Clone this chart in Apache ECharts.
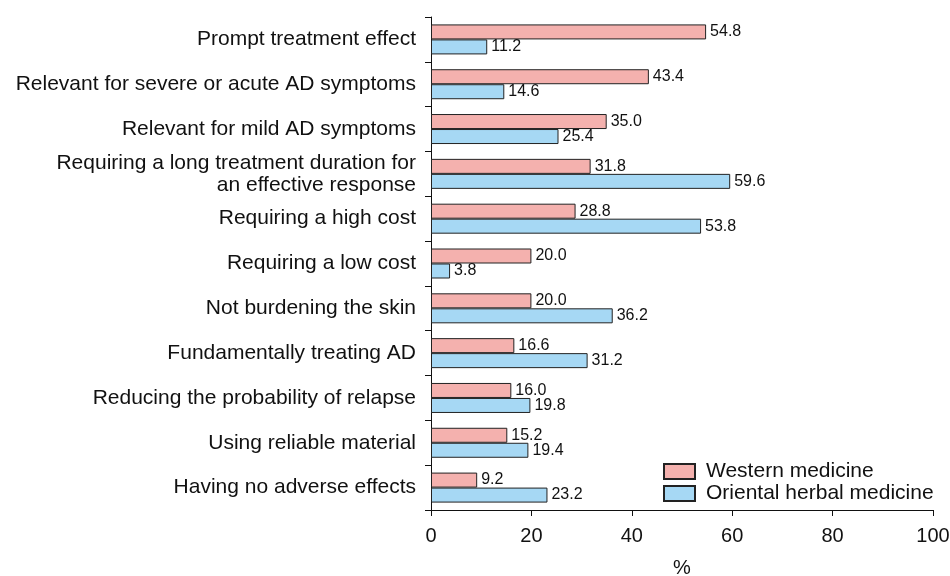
<!DOCTYPE html>
<html>
<head>
    <meta charset="utf-8" />
    <title>Western vs Oriental herbal medicine</title>
    <script src="https://cdn.jsdelivr.net/npm/echarts@6/dist/echarts.min.js"></script>
    <style type="text/css">
        html, body { margin: 0; padding: 0; background: #fff; }
        #chart { width: 950px; height: 576px; }
    </style>
</head>
<body>
    <div id="chart"></div>
<script type="text/javascript">
    // categories, top to bottom
    var categories = [
        'Prompt treatment effect',
        'Relevant for severe or acute AD symptoms',
        'Relevant for mild AD symptoms',
        'Requiring a long treatment duration for\nan effective response',
        'Requiring a high cost',
        'Requiring a low cost',
        'Not burdening the skin',
        'Fundamentally treating AD',
        'Reducing the probability of relapse',
        'Using reliable material',
        'Having no adverse effects'
    ];
    var westernValues = [54.8, 43.4, 35.0, 31.8, 28.8, 20.0, 20.0, 16.6, 16.0, 15.2, 9.2];
    var orientalValues = [11.2, 14.6, 25.4, 59.6, 53.8, 3.8, 36.2, 31.2, 19.8, 19.4, 23.2];
    var seriesNames = ['Western medicine', 'Oriental herbal medicine'];

    var font = 'Liberation Sans, Arial, sans-serif';

    function barLabel() {
        return {
            show: true,
            position: 'right',
            distance: 4,
            color: '#111',
            fontSize: 16,
            fontFamily: font,
            formatter: function (p) { return p.value.toFixed(1); }
        };
    }

    var myChart = echarts.init(document.getElementById('chart'));
    var option = {
        animation: false,
        backgroundColor: '#fff',
        grid: { left: 431, right: 17, top: 17, bottom: 66, outerBoundsMode: 'none' },
        legend: {
            orient: 'vertical',
            left: 658,
            top: 456,
            icon: 'rect',
            itemWidth: 31,
            itemHeight: 15,
            itemGap: 1,
            textStyle: {
                fontSize: 21, fontFamily: font, color: '#111',
                lineHeight: 20, padding: [0, 0, 0, 6]
            },
            data: seriesNames
        },
        xAxis: {
            type: 'value',
            min: 0,
            max: 100,
            interval: 20,
            name: '%',
            nameLocation: 'middle',
            nameGap: 48,
            nameTextStyle: { fontSize: 20, fontFamily: font, color: '#111' },
            axisLine: { show: true, lineStyle: { color: '#111', width: 1 } },
            axisTick: { show: true, length: 6, lineStyle: { color: '#111' } },
            axisLabel: { fontSize: 20, fontFamily: font, color: '#111', margin: 16 },
            splitLine: { show: false }
        },
        yAxis: {
            type: 'category',
            inverse: true,
            data: categories,
            axisLine: { show: true, lineStyle: { color: '#111', width: 1 } },
            axisTick: { show: true, length: 6, alignWithLabel: false, lineStyle: { color: '#111' } },
            axisLabel: {
                fontSize: 21, fontFamily: font, color: '#111', margin: 15,
                align: 'right', lineHeight: 22
            }
        },
        series: [
            {
                name: seriesNames[0],
                type: 'bar',
                data: westernValues,
                barWidth: 15,
                barGap: '0%',
                itemStyle: { color: '#f4b1ae', borderColor: '#222', borderWidth: 1 },
                label: barLabel()
            },
            {
                name: seriesNames[1],
                type: 'bar',
                data: orientalValues,
                barWidth: 15,
                itemStyle: { color: '#a6d8f4', borderColor: '#222', borderWidth: 1 },
                label: barLabel()
            }
        ]
    };
    myChart.setOption(option);
</script>
</body>
</html>
